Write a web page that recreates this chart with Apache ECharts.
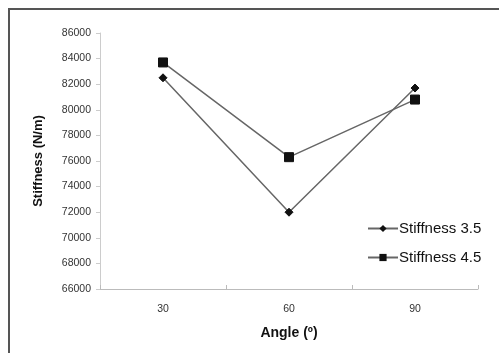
<!DOCTYPE html>
<html><head><meta charset="utf-8">
<script src="https://cdn.jsdelivr.net/npm/echarts@6/dist/echarts.min.js"></script>
<style>html,body{margin:0;padding:0;background:#fff}#c{width:499px;height:353px}</style>
</head><body><div id="c"></div>
<script>
const categories = ['30', '60', '90'];
const stiffness35 = [82500, 72000, 81700];
const stiffness45 = [83700, 76300, 80800];
const seriesNames = ['Stiffness 3.5', 'Stiffness 4.5'];

const chart = echarts.init(document.getElementById('c'), null, {renderer: 'canvas'});
const font = 'Liberation Sans, Arial, sans-serif';
chart.setOption({
  animation: false,
  backgroundColor: '#fff',
  graphic: [{
    type: 'rect', shape: {x: 9, y: 9, width: 600, height: 600},
    style: {fill: 'none', stroke: '#555', lineWidth: 2}, silent: true
  }],
  grid: {left: 100, right: 21, top: 33, bottom: 64, containLabel: false},
  legend: {
    data: seriesNames, orient: 'vertical', left: 362, top: 216,
    itemWidth: 30, itemHeight: 9, itemGap: 14,
    textStyle: {fontFamily: font, fontSize: 15, color: '#111', padding: [0, 0, 0, -4]}
  },
  xAxis: {
    type: 'category', data: categories, boundaryGap: true,
    name: 'Angle (º)', nameLocation: 'middle', nameGap: 37,
    nameTextStyle: {fontFamily: font, fontSize: 14, fontWeight: 'bold', color: '#111'},
    axisLine: {lineStyle: {color: '#bbb', width: 1}},
    axisTick: {show: true, inside: true, length: 4, lineStyle: {color: '#bbb'}},
    axisLabel: {fontFamily: font, fontSize: 10.5, color: '#333', margin: 15}
  },
  yAxis: {
    type: 'value', min: 66000, max: 86000, interval: 2000,
    name: 'Stiffness (N/m)', nameLocation: 'middle', nameGap: 55,
    nameTextStyle: {fontFamily: font, fontSize: 13, fontWeight: 'bold', color: '#111'},
    axisLine: {show: true, lineStyle: {color: '#ccc', width: 1}},
    axisTick: {show: true, length: 4, lineStyle: {color: '#ccc'}},
    splitLine: {show: false},
    axisLabel: {fontFamily: font, fontSize: 10.5, color: '#333', margin: 9,
      formatter: v => String(v)}
  },
  series: [{
    name: seriesNames[0], type: 'line', data: stiffness35,
    symbol: 'diamond', symbolSize: 8,
    lineStyle: {color: '#666', width: 1.5},
    itemStyle: {color: '#111', borderColor: '#111'}
  }, {
    name: seriesNames[1], type: 'line', data: stiffness45,
    symbol: 'rect', symbolSize: 9,
    lineStyle: {color: '#666', width: 1.5},
    itemStyle: {color: '#111', borderColor: '#111'}
  }]
});
</script></body></html>
